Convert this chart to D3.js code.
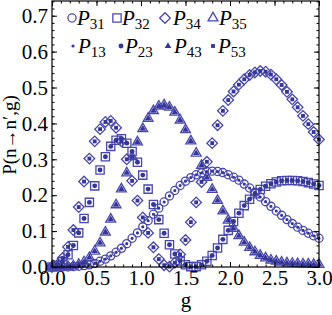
<!DOCTYPE html>
<html><head><meta charset="utf-8">
<script src="https://cdn.jsdelivr.net/npm/d3@7"></script>
<style>body{margin:0;background:#fff}svg{display:block}</style>
</head><body>
<script>
const gValues = [0,0.06,0.12,0.18,0.24,0.3,0.36,0.42,0.48,0.54,0.6,0.66,0.72,0.78,0.84,0.9,0.96,1.02,1.08,1.14,1.2,1.26,1.32,1.38,1.44,1.5,1.56,1.62,1.68,1.74,1.8,1.86,1.92,1.98,2.04,2.1,2.16,2.22,2.28,2.34,2.4,2.46,2.52,2.58,2.64,2.7,2.76,2.82,2.88,2.94,3.0];
const P31 = [0,0,0,0,0.001,0.002,0.004,0.006,0.010,0.016,0.022,0.031,0.041,0.052,0.065,0.080,0.095,0.112,0.129,0.147,0.164,0.181,0.198,0.213,0.227,0.239,0.249,0.257,0.262,0.266,0.267,0.266,0.263,0.257,0.250,0.242,0.231,0.220,0.208,0.195,0.182,0.169,0.156,0.144,0.132,0.121,0.111,0.102,0.094,0.087,0.080];
const P13 = [0,0,0,0,0.001,0.002,0.004,0.006,0.010,0.016,0.022,0.031,0.041,0.052,0.065,0.080,0.095,0.112,0.129,0.147,0.164,0.181,0.198,0.213,0.227,0.239,0.249,0.257,0.262,0.266,0.267,0.266,0.263,0.257,0.250,0.242,0.231,0.220,0.208,0.195,0.182,0.169,0.156,0.144,0.132,0.121,0.111,0.102,0.094,0.087,0.080];
const P32 = [0,0.004,0.015,0.034,0.060,0.095,0.135,0.180,0.226,0.270,0.307,0.336,0.353,0.357,0.345,0.322,0.292,0.256,0.217,0.174,0.132,0.094,0.062,0.036,0.017,0.006,0.001,0.001,0.006,0.016,0.032,0.053,0.077,0.102,0.127,0.150,0.171,0.189,0.204,0.216,0.225,0.232,0.237,0.240,0.241,0.241,0.240,0.238,0.235,0.231,0.227];
const P23 = [0,0.004,0.015,0.034,0.060,0.095,0.135,0.180,0.226,0.270,0.307,0.336,0.353,0.357,0.345,0.322,0.292,0.256,0.217,0.174,0.132,0.094,0.062,0.036,0.017,0.006,0.001,0.001,0.006,0.016,0.032,0.053,0.077,0.102,0.127,0.150,0.171,0.189,0.204,0.216,0.225,0.232,0.237,0.240,0.241,0.241,0.240,0.238,0.235,0.231,0.227];
const P34 = [0,0.006,0.025,0.056,0.103,0.167,0.238,0.302,0.350,0.384,0.404,0.407,0.388,0.350,0.300,0.240,0.185,0.138,0.095,0.055,0.022,0.005,0.001,0.012,0.035,0.075,0.125,0.180,0.237,0.293,0.345,0.395,0.435,0.465,0.489,0.508,0.523,0.535,0.542,0.546,0.544,0.536,0.523,0.507,0.488,0.467,0.445,0.421,0.398,0.376,0.355];
const P53 = [0,0.006,0.025,0.056,0.103,0.167,0.238,0.302,0.350,0.384,0.404,0.407,0.388,0.350,0.300,0.240,0.185,0.138,0.095,0.055,0.022,0.005,0.001,0.012,0.035,0.075,0.125,0.180,0.237,0.293,0.345,0.395,0.435,0.465,0.489,0.508,0.523,0.535,0.542,0.546,0.544,0.536,0.523,0.507,0.488,0.467,0.445,0.421,0.398,0.376,0.355];
const P35 = [0,0,0,0.001,0.003,0.007,0.014,0.026,0.044,0.067,0.097,0.133,0.173,0.217,0.262,0.307,0.348,0.385,0.414,0.435,0.448,0.451,0.445,0.431,0.409,0.382,0.351,0.317,0.283,0.249,0.216,0.185,0.156,0.130,0.107,0.087,0.069,0.054,0.042,0.032,0.025,0.019,0.016,0.013,0.011,0.010,0.009,0.008,0.008,0.007,0.007];
const P43 = [0,0,0,0.001,0.003,0.007,0.014,0.026,0.044,0.067,0.097,0.133,0.173,0.217,0.262,0.307,0.348,0.385,0.414,0.435,0.448,0.451,0.445,0.431,0.409,0.382,0.351,0.317,0.283,0.249,0.216,0.185,0.156,0.130,0.107,0.087,0.069,0.054,0.042,0.032,0.025,0.019,0.016,0.013,0.011,0.010,0.009,0.008,0.008,0.007,0.007];
const xTicks = [0,0.5,1,1.5,2,2.5,3];
const yTicks = [0,0.1,0.2,0.3,0.4,0.5,0.6,0.7];
const seriesNames = ["31","32","34","35","13","23","43","53"];

const W = 332, H = 315;
const STROKE = "#4848aa", FILL = "#36369a";
const svg = d3.select("body").append("svg").attr("width", W).attr("height", H);
const x = d3.scaleLinear().domain([0, 3]).range([52, 319]);
const y = d3.scaleLinear().domain([0, 0.741]).range([267, 1]);

const markerDefs = {
  "31": {type: d3.symbolCircle, size: 52, open: true, rot: 0},
  "32": {type: d3.symbolSquare, size: 68, open: true, rot: 0},
  "34": {type: d3.symbolSquare, size: 56, open: true, rot: 45},
  "35": {type: d3.symbolTriangle, size: 42, open: true, rot: 0},
  "13": {type: d3.symbolCircle, size: 8, open: false, rot: 0},
  "23": {type: d3.symbolCircle, size: 19, open: false, rot: 0},
  "43": {type: d3.symbolTriangle, size: 19, open: false, rot: 0},
  "53": {type: d3.symbolSquare, size: 15, open: false, rot: 0}
};
const seriesData = {"31": P31, "32": P32, "34": P34, "35": P35, "13": P13, "23": P23, "43": P43, "53": P53};

function drawMarker(sel, key) {
  const m = markerDefs[key];
  sel.attr("d", d3.symbol().type(m.type).size(m.size)())
    .attr("fill", m.open ? "none" : FILL)
    .attr("stroke", m.open ? STROKE : "none")
    .attr("stroke-width", m.open ? 1.3 : 0);
}

const plot = svg.append("g");
seriesNames.forEach(key => {
  const vals = seriesData[key];
  const m = markerDefs[key];
  plot.append("g").selectAll("path").data(gValues.map((g, i) => [g, vals[i]])).join("path")
    .attr("transform", d => `translate(${x(d[0])},${y(d[1])}) rotate(${m.rot})`)
    .call(drawMarker, key);
});

const font = "'Liberation Serif', 'Times New Roman', serif";
const minorX = d3.range(0, 3.001, 0.1);
const minorY = d3.range(0, 0.741, 0.02);
function styleAxis(g) {
  g.selectAll(".domain").remove();
  g.selectAll("line").attr("stroke", "#000").attr("stroke-width", 1);
  g.selectAll("text").attr("font-family", font).attr("font-size", 21).attr("fill", "#000");
}
svg.append("g").attr("transform", "translate(0,267)")
  .call(d3.axisBottom(x).tickValues(xTicks).tickSize(-5).tickPadding(3).tickFormat(d3.format(".1f"))).call(styleAxis);
svg.append("g").attr("transform", "translate(0,267)")
  .call(d3.axisBottom(x).tickValues(minorX).tickSize(-2.5).tickFormat("")).call(styleAxis);
svg.append("g").attr("transform", "translate(0,1)")
  .call(d3.axisTop(x).tickValues(xTicks).tickSize(-5).tickFormat("")).call(styleAxis);
svg.append("g").attr("transform", "translate(0,1)")
  .call(d3.axisTop(x).tickValues(minorX).tickSize(-2.5).tickFormat("")).call(styleAxis);
svg.append("g").attr("transform", "translate(52,0)")
  .call(d3.axisLeft(y).tickValues(yTicks).tickSize(-5).tickPadding(4).tickFormat(d3.format(".1f"))).call(styleAxis);
svg.append("g").attr("transform", "translate(52,0)")
  .call(d3.axisLeft(y).tickValues(minorY).tickSize(-2.5).tickFormat("")).call(styleAxis);
svg.append("g").attr("transform", "translate(319,0)")
  .call(d3.axisRight(y).tickValues(yTicks).tickSize(-5).tickFormat("")).call(styleAxis);
svg.append("g").attr("transform", "translate(319,0)")
  .call(d3.axisRight(y).tickValues(minorY).tickSize(-2.5).tickFormat("")).call(styleAxis);

svg.append("rect").attr("x", 52).attr("y", 1).attr("width", 267).attr("height", 266)
  .attr("fill", "none").attr("stroke", "#000").attr("stroke-width", 1.2);

svg.append("text").attr("x", 186).attr("y", 307).attr("text-anchor", "middle")
  .attr("font-family", font).attr("font-size", 21).text("g");
svg.append("text").attr("transform", "translate(16,135) rotate(-90)").attr("text-anchor", "middle")
  .attr("font-family", font).attr("font-size", 19).text("P(n\u2192n\u2032,g)");

const legendPos = [
  {key: "31", mx: 72, tx: 77, y: 25}, {key: "32", mx: 117, tx: 122, y: 25},
  {key: "34", mx: 165, tx: 173, y: 25}, {key: "35", mx: 213, tx: 219, y: 25},
  {key: "13", mx: 73, tx: 78, y: 53}, {key: "23", mx: 121, tx: 125, y: 53},
  {key: "43", mx: 168, tx: 174, y: 53}, {key: "53", mx: 213, tx: 218, y: 53}
];
const leg = svg.append("g");
legendPos.forEach(p => {
  const m = markerDefs[p.key];
  leg.append("path").attr("transform", `translate(${p.mx},${p.y - 7}) rotate(${m.rot})`).call(drawMarker, p.key);
  const t = leg.append("text").attr("x", p.tx).attr("y", p.y).attr("font-family", font).attr("font-size", 21);
  t.append("tspan").attr("font-style", "italic").text("P");
  t.append("tspan").attr("font-size", 15).attr("dy", 4).text(p.key);
});
</script>
</body></html>
